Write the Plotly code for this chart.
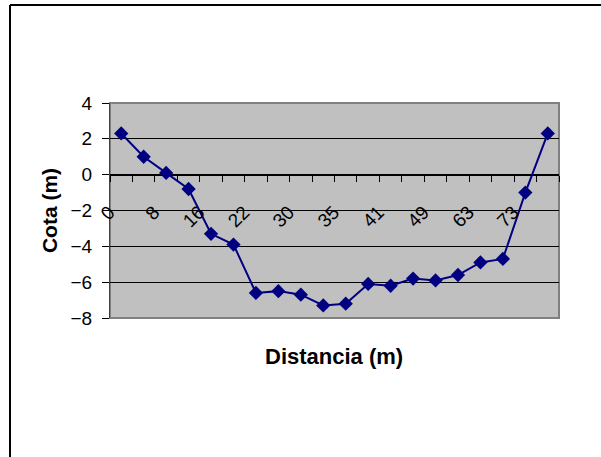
import plotly.graph_objects as go

# Data
distancia = ["0", "4", "8", "12", "16", "19", "22", "26", "30", "32",
             "35", "38", "41", "45", "49", "56", "63", "68", "73", "78"]
etiquetas = ["0", "", "8", "", "16", "", "22", "", "30", "",
             "35", "", "41", "", "49", "", "63", "", "73", ""]
cota = [2.3, 1.0, 0.1, -0.8, -3.3, -3.9, -6.6, -6.5, -6.7, -7.3,
        -7.2, -6.1, -6.2, -5.8, -5.9, -5.6, -4.9, -4.7, -1.0, 2.3]
y_ticks = [4, 2, 0, -2, -4, -6, -8]

FONT = "Liberation Sans, Arial, sans-serif"

fig = go.Figure()
fig.add_trace(go.Scatter(
    x=distancia, y=cota, mode="lines+markers",
    line=dict(color="#000080", width=2),
    marker=dict(symbol="diamond", size=11, color="#000080"),
    showlegend=False, cliponaxis=False,
))

L, R, T, B = 110, 42, 103, 139
W, H = 601, 457
pw, ph = W - L - R, H - T - B

def px_x(p):
    return (p - L) / pw

def px_y(p):
    return (H - B - p) / ph

shapes = [
    # outer chart frame (left and top visible)
    dict(type="line", xref="paper", yref="paper", x0=px_x(10), x1=px_x(10),
         y0=px_y(5), y1=px_y(470), line=dict(color="black", width=2)),
    dict(type="line", xref="paper", yref="paper", x0=px_x(10), x1=px_x(620),
         y0=px_y(5), y1=px_y(5), line=dict(color="black", width=2)),
    # plot area border
    dict(type="rect", xref="paper", yref="paper", x0=0, x1=1, y0=0, y1=1,
         line=dict(color="#808080", width=2), layer="below"),
]

fig.update_layout(
    width=W, height=H,
    margin=dict(l=L, r=R, t=T, b=B),
    paper_bgcolor="white",
    plot_bgcolor="#C0C0C0",
    font=dict(family=FONT, size=19, color="black"),
    shapes=shapes,
    xaxis=dict(
        type="category",
        tickmode="array", tickvals=distancia, ticktext=etiquetas,
        tickson="boundaries",
        ticks="outside", ticklen=6, tickcolor="black", tickwidth=1,
        tickangle=-45,
        ticklabelstandoff=18, ticklabelshift=-12,
        showgrid=False, zeroline=False,
        showline=True, linecolor="black", linewidth=1,
        anchor="free", position=8 / 12,
        range=[-0.5, len(distancia) - 0.5],
        tickfont=dict(size=19),
    ),
    yaxis=dict(
        range=[-8, 4], tickmode="array", tickvals=y_ticks,
        ticks="outside", ticklen=7, tickcolor="black",
        ticklabelstandoff=6,
        showgrid=True, gridcolor="black", gridwidth=1,
        zeroline=False, showline=True, linecolor="#404040", linewidth=1,
        tickfont=dict(size=19),
        title=dict(text="<b>Cota (m)</b>", font=dict(size=21), standoff=7),
    ),
    annotations=[
        dict(text="<b>Distancia (m)</b>", xref="paper", yref="paper",
             x=px_x(334), y=px_y(356), showarrow=False,
             font=dict(size=22), xanchor="center", yanchor="middle"),
    ],
)

fig.write_html("out.html")
